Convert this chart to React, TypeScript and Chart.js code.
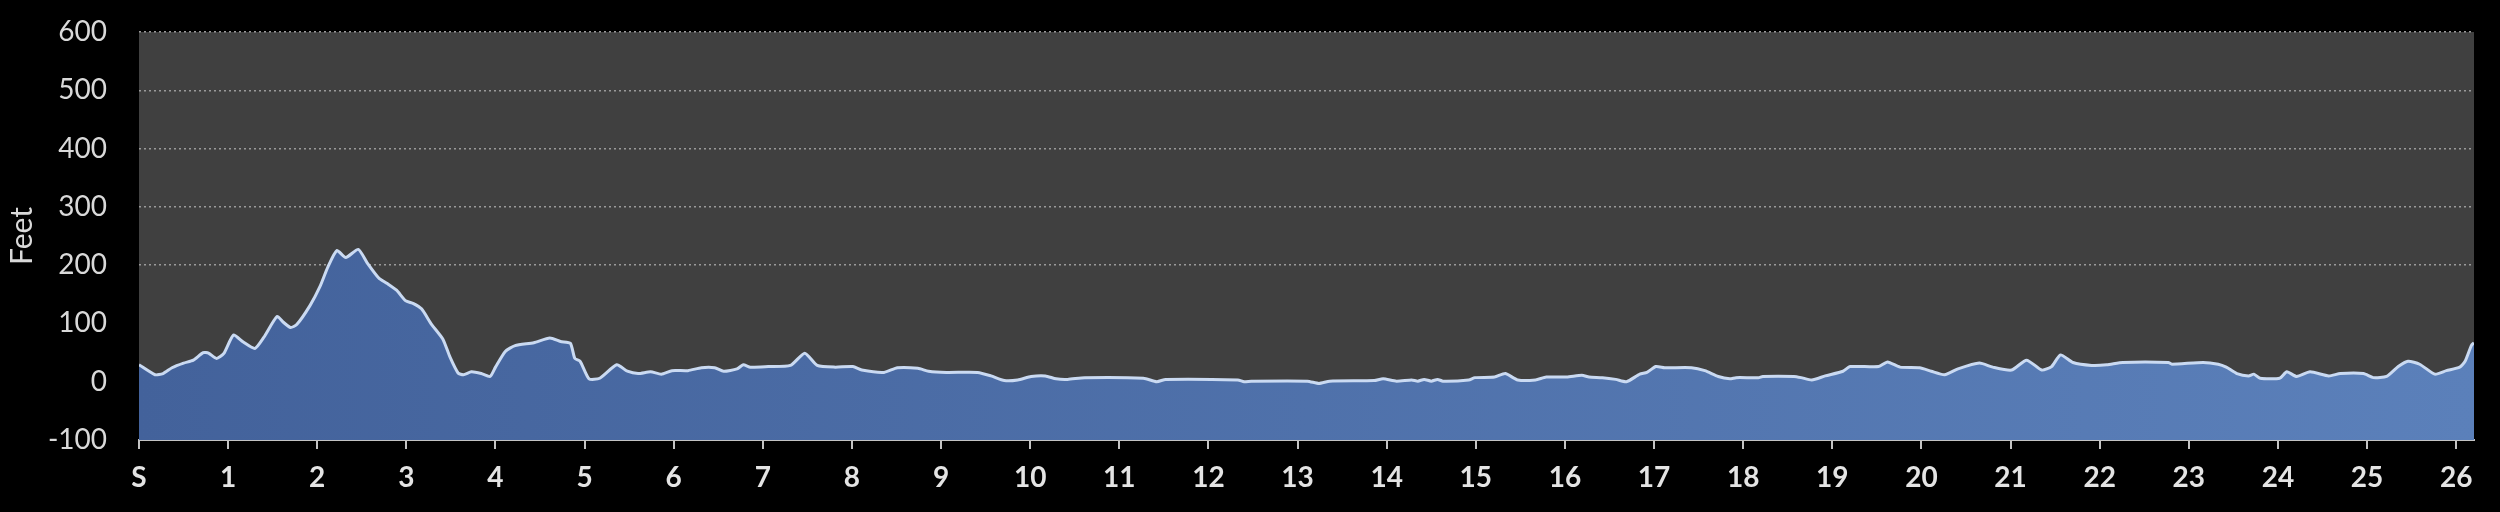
import React, { useEffect, useRef } from "react";
import { Chart, registerables } from "chart.js";

Chart.register(...registerables);

// Distance along the course (miles) and elevation (feet)
const miles: number[] = [
  0.0, 0.18, 0.27, 0.37, 0.5, 0.61, 0.72, 0.78, 0.87, 0.95,
  1.06, 1.17, 1.3, 1.4, 1.55, 1.62, 1.7, 1.77, 1.92,
  2.03, 2.12, 2.22, 2.32, 2.46, 2.56, 2.69, 2.78, 2.89, 2.99,
  3.08, 3.17, 3.28, 3.41, 3.49, 3.58, 3.64, 3.73, 3.84, 3.94,
  4.0, 4.11, 4.22, 4.43, 4.61, 4.73, 4.84, 4.89, 4.95,
  5.05, 5.17, 5.36, 5.48, 5.6, 5.74, 5.86, 5.98,
  6.16, 6.31, 6.46, 6.56, 6.71, 6.78, 6.86,
  7.06, 7.31, 7.47, 7.61, 7.81,
  8.01, 8.11, 8.36, 8.51, 8.74, 8.86,
  9.06, 9.41, 9.56, 9.71, 9.86,
  10.01, 10.17, 10.29, 10.42, 10.61,
  11.27, 11.42, 11.52,
  12.33, 12.4, 12.48,
  13.11, 13.24, 13.36, 13.86, 13.96,
  14.11, 14.28, 14.35, 14.42, 14.5, 14.57, 14.63, 14.92, 14.99,
  15.21, 15.33, 15.47, 15.67, 15.79,
  16.02, 16.19, 16.27, 16.42, 16.57, 16.69, 16.84, 16.92,
  17.02, 17.12, 17.42, 17.57, 17.72, 17.85, 17.92,
  18.17, 18.22, 18.57, 18.65, 18.77, 18.92,
  19.12, 19.2, 19.52, 19.62, 19.76, 19.98,
  20.11, 20.26, 20.41, 20.65, 20.8,
  21.01, 21.18, 21.35, 21.46, 21.56, 21.7, 21.91,
  22.08, 22.26, 22.77, 22.81,
  23.16, 23.33, 23.42, 23.54, 23.67, 23.73, 23.8,
  24.02, 24.1, 24.21, 24.36, 24.57, 24.7, 24.96,
  25.07, 25.22, 25.35, 25.46, 25.59, 25.76, 25.89,
  26.04, 26.1, 26.17, 26.2,
];

const elevation: number[] = [
  29, 12, 14, 24, 32, 37, 50, 49, 40, 48,
  80, 68, 57, 76, 112, 102, 93, 98, 131,
  163, 197, 225, 213, 227, 204, 178, 169, 157, 139,
  134, 125, 99, 73, 42, 15, 12, 17, 14, 9,
  25, 52, 62, 67, 75, 69, 66, 40, 35,
  5, 6, 29, 18, 14, 17, 13, 19,
  19, 24, 24, 18, 22, 29, 25,
  26, 28, 49, 28, 25,
  26, 20, 16, 24, 23, 18,
  16, 16, 10, 2, 3,
  9, 10, 5, 4, 7,
  6, 0, 4,
  3, 0, 1,
  1, -3, 1, 2, 5,
  1, 3, 1, 4, 1, 4, 1, 3, 7,
  8, 14, 3, 3, 8,
  8, 11, 8, 7, 4, 0, 13, 16,
  26, 24, 24, 19, 9, 5, 7,
  7, 9, 9, 7, 3, 10,
  18, 26, 26, 34, 25, 24,
  18, 12, 22, 32, 25,
  20, 37, 20, 26, 46, 33, 28,
  29, 33, 33, 30,
  33, 30, 25, 14, 10, 13, 6,
  6, 17, 9, 17, 10, 14, 14,
  7, 9, 26, 35, 30, 13, 19,
  25, 35, 62, 67,
];

const yTicks: number[] = [-100, 0, 100, 200, 300, 400, 500, 600];
const yGridValues: number[] = [200, 300, 400, 500, 600];
const xTickLabels: string[] = [
  "S", "1", "2", "3", "4", "5", "6", "7", "8", "9", "10", "11", "12", "13",
  "14", "15", "16", "17", "18", "19", "20", "21", "22", "23", "24", "25", "26",
];
const yAxisTitle = "Feet";
const courseLength = 26.2;

const bgPlugin = {
  id: "bgPlugin",
  beforeDraw(chart: any) {
    const { ctx, chartArea, width, height } = chart;
    ctx.save();
    ctx.fillStyle = "#000000";
    ctx.fillRect(0, 0, width, height);
    if (chartArea) {
      ctx.fillStyle = "#404040";
      ctx.fillRect(
        chartArea.left,
        chartArea.top,
        chartArea.right - chartArea.left,
        chartArea.bottom - chartArea.top
      );
    }
    ctx.restore();
  },
};

export default function App() {
  const canvasRef = useRef<HTMLCanvasElement | null>(null);

  useEffect(() => {
    document.body.style.margin = "0";
    document.body.style.background = "#000";
    const canvas = canvasRef.current;
    if (!canvas) return;

    const points = miles.map((m, i) => ({ x: m, y: elevation[i] }));

    const chart = new Chart(canvas, {
      type: "line",
      data: {
        datasets: [
          {
            data: points,
            borderColor: "#cadaf2",
            borderWidth: 3,
            pointRadius: 0,
            tension: 0.2,
            fill: "start",
            backgroundColor: (ctx: any) => {
              const area = ctx.chart.chartArea;
              if (!area) return "#4a6aa5";
              const g = ctx.chart.ctx.createLinearGradient(area.left, 0, area.right, 0);
              g.addColorStop(0, "#43629b");
              g.addColorStop(1, "#5b80ba");
              return g;
            },
          },
        ],
      },
      options: {
        animation: false,
        responsive: false,
        maintainAspectRatio: false,
        layout: { padding: { top: 32, right: 26, left: 0, bottom: 0 } },
        plugins: {
          legend: { display: false },
          tooltip: { enabled: false },
        },
        scales: {
          x: {
            type: "linear",
            min: 0,
            max: courseLength,
            afterBuildTicks: (scale: any) => {
              scale.ticks = xTickLabels.map((_, i) => ({ value: i }));
            },
            afterFit: (scale: any) => {
              scale.height = 72;
              scale.paddingLeft = 0;
              scale.paddingRight = 0;
            },
            ticks: {
              autoSkip: false,
              maxRotation: 0,
              padding: 12,
              color: "#e4e4e4",
              font: { family: "Lato", size: 28, weight: "bold" },
              callback: (value: any) => xTickLabels[Math.round(Number(value))] ?? "",
            },
            grid: {
              drawOnChartArea: false,
              drawTicks: true,
              tickLength: 9,
              color: "#c4c4c4",
              lineWidth: 2,
            },
            border: { display: true, color: "#c4c4c4", width: 2 },
          },
          y: {
            min: yTicks[0],
            max: yTicks[yTicks.length - 1],
            afterBuildTicks: (scale: any) => {
              scale.ticks = yTicks.map((v) => ({ value: v }));
            },
            afterFit: (scale: any) => {
              scale.width = 139;
              scale.paddingTop = 0;
              scale.paddingBottom = 0;
            },
            ticks: {
              padding: 32,
              color: "#d9d9d9",
              font: { family: "Lato", size: 28 },
            },
            grid: {
              drawTicks: false,
              color: (ctx: any) =>
                ctx.tick && yGridValues.includes(ctx.tick.value) ? "#9a9a9a" : "rgba(0,0,0,0)",
              lineWidth: 1.5,
            },
            border: { display: false, dash: [2, 3] },
            title: {
              display: true,
              text: yAxisTitle,
              color: "#d9d9d9",
              font: { family: "Lato", size: 30 },
              padding: { top: 4, bottom: 0 },
            },
          },
        },
      },
      plugins: [bgPlugin],
    } as any);

    return () => {
      chart.destroy();
    };
  }, []);

  return (
    <div style={{ width: 2500, height: 512, background: "#000" }}>
      <canvas ref={canvasRef} width={2500} height={512} style={{ display: "block" }} />
    </div>
  );
}
